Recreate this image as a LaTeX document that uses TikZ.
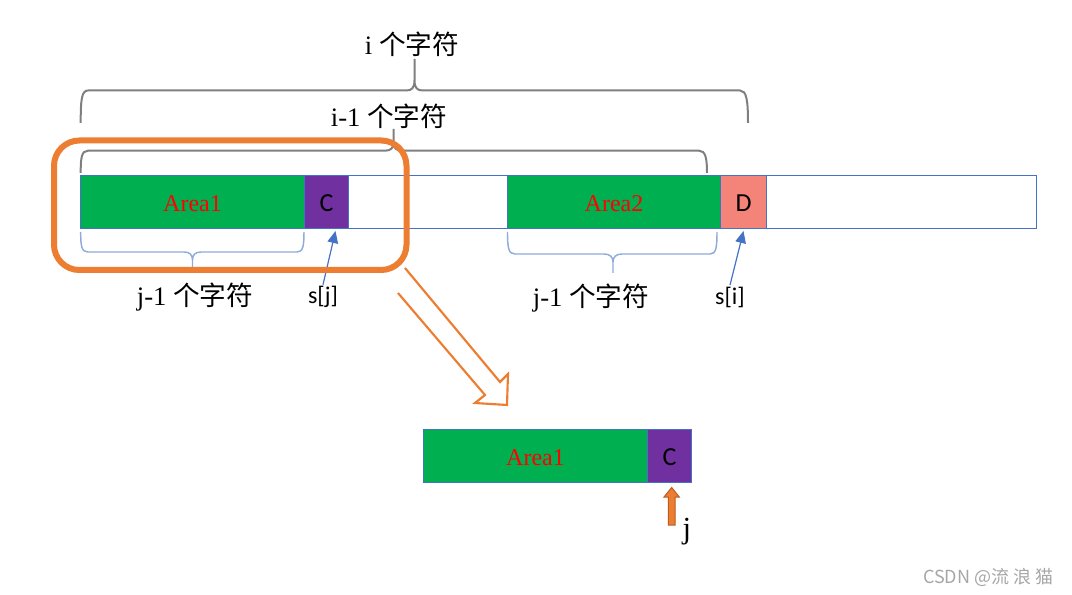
\documentclass[tikz,border=0pt]{standalone}
\usepackage{fontspec}
\setmainfont{Liberation Serif}
\newfontfamily\cjk{Noto Sans CJK SC}
\newfontfamily\calfont{Carlito}
\usetikzlibrary{arrows.meta,calc}
\definecolor{bblue}{HTML}{4472C4}
\definecolor{lblue}{HTML}{8FAADC}
\definecolor{cgreen}{HTML}{00B050}
\definecolor{cpurple}{HTML}{7030A0}
\definecolor{csalmon}{HTML}{F4837A}
\definecolor{corange}{HTML}{ED7D31}
\definecolor{dorange}{HTML}{B85E1E}
\definecolor{bgray}{HTML}{7F7F7F}
\definecolor{wmgray}{HTML}{A6A6A6}
\begin{document}
\begin{tikzpicture}[x=0.75pt,y=-0.75pt,
  cell/.style={draw=bblue, line width=0.75pt, minimum height=39.75pt, inner sep=0pt, anchor=north west},
  areatext/.style={text=red, font=\fontsize{18}{21}\selectfont, yshift=-1.5pt},
  chartext/.style={font=\calfont\fontsize{19.5}{22}\selectfont, yshift=-0.8pt},
  stext/.style={font=\calfont\fontsize{18}{21}\selectfont, inner sep=1pt},
  lbl/.style={font=\fontsize{20}{24}\selectfont, inner sep=1pt},
  gbrace/.style={draw=bgray, line width=1.5pt},
  bbrace/.style={draw=lblue, line width=1.1pt},
  barrow/.style={draw=bblue, line width=0.9pt, -{Triangle[length=9pt,width=8pt]}}
]
\path[use as bounding box] (0,0) rectangle (1072,595);

% main bar
\node[cell, minimum width=717pt] (bar) at (80,175) {};
\node[cell, fill=cgreen, minimum width=168pt] (a1) at (80,175) {};
\node[areatext] at (a1.center) {Area1};
\node[cell, fill=cpurple, minimum width=33pt] (cC) at (304,175) {};
\node[chartext] at (cC.center) {C};
\node[cell, fill=cgreen, minimum width=159.75pt] (a2) at (507,175) {};
\node[areatext] at (a2.center) {Area2};
\node[cell, fill=csalmon, minimum width=34.5pt] (cD) at (720,175) {};
\node[chartext] at (cD.center) {D};

% top braces
\draw[gbrace] (80.7,123) .. controls (80.7,100) and (81.5,90.5) .. (88,90.5) -- (406,90.5)
  .. controls (412,90.5) and (414.5,88) .. (414.5,80) -- (414.5,59) -- (414.5,80)
  .. controls (414.5,88) and (417,90.5) .. (423,90.5) -- (740,90.5)
  .. controls (746.5,90.5) and (748,100) .. (748,123);
\node[lbl] (ti) at (412,44) {i {\cjk 个字符}};

\draw[gbrace] (80.7,173) .. controls (80.7,158) and (81.5,150.7) .. (88,150.7) -- (385,150.7)
  .. controls (391,150.7) and (393.5,148) .. (393.5,142) -- (393.5,129) -- (393.5,142)
  .. controls (393.5,148) and (396,150.7) .. (402,150.7) -- (699,150.7)
  .. controls (705.5,150.7) and (707,158) .. (707,173);
\node[lbl] (ti1) at (389,116) {i-1 {\cjk 个字符}};

% lower braces
\draw[bbrace] (80.7,232) .. controls (80.7,246) and (81.5,252) .. (88,252) -- (184,252)
  .. controls (190,252) and (192.5,255) .. (192.5,260) -- (192.5,269) -- (192.5,260)
  .. controls (192.5,255) and (195,252) .. (201,252) -- (297,252)
  .. controls (303,252) and (304,246) .. (304,232);
\node[lbl] (tj1) at (195,297) {j-1 {\cjk 个字符}};

\draw[bbrace] (507.5,232) .. controls (507.5,248) and (508.5,254) .. (515,254) -- (604,254)
  .. controls (610,254) and (613,257) .. (613,262) -- (613,273) -- (613,262)
  .. controls (613,257) and (616,254) .. (622,254) -- (710,254)
  .. controls (716,254) and (717,248) .. (717,232);
\node[lbl] (tj2) at (591,298) {j-1 {\cjk 个字符}};

% s[j], s[i]
\node[stext] (sj) at (323,297) {s[j]};
\draw[barrow] (sj.north) -- ($(cC.south)+(9,2)$);
\node[stext] (si) at (730,297) {s[i]};
\draw[barrow] (si.north) -- ($(cD.south)+(0,2)$);

% hollow arrow
\draw[corange, line width=1.6pt, fill=white, line join=miter]
  (398,293) -- (485,395) -- (475,403) -- (507,405) -- (508,374) -- (500,382) -- (405,268);

% orange rounded rectangle
\draw[corange, line width=4.5pt, rounded corners=19pt] (54,140.5) rectangle (406.5,270);

% lower bar
\node[cell, fill=cgreen, minimum width=168pt] (b1) at (423,429) {};
\node[areatext] at (b1.center) {Area1};
\node[cell, fill=cpurple, minimum width=33pt] (bC) at (647,429) {};
\node[chartext] at (bC.center) {C};

% small up arrow
\draw[dorange, fill=corange, line width=0.75pt, line join=miter]
  (668.3,525) -- (668.3,497) -- (664,497) -- (671.7,487.5) -- (679.3,497) -- (675,497) -- (675,525) -- cycle;
\node[font=\fontsize{23}{27}\selectfont] (tj) at (687,532) {j};

% watermark
\node[text=wmgray, font=\cjk\fontsize{13.5}{16}\selectfont, anchor=east] (wm) at (1058,577) {CSDN @流 浪 猫};
\end{tikzpicture}
\end{document}
